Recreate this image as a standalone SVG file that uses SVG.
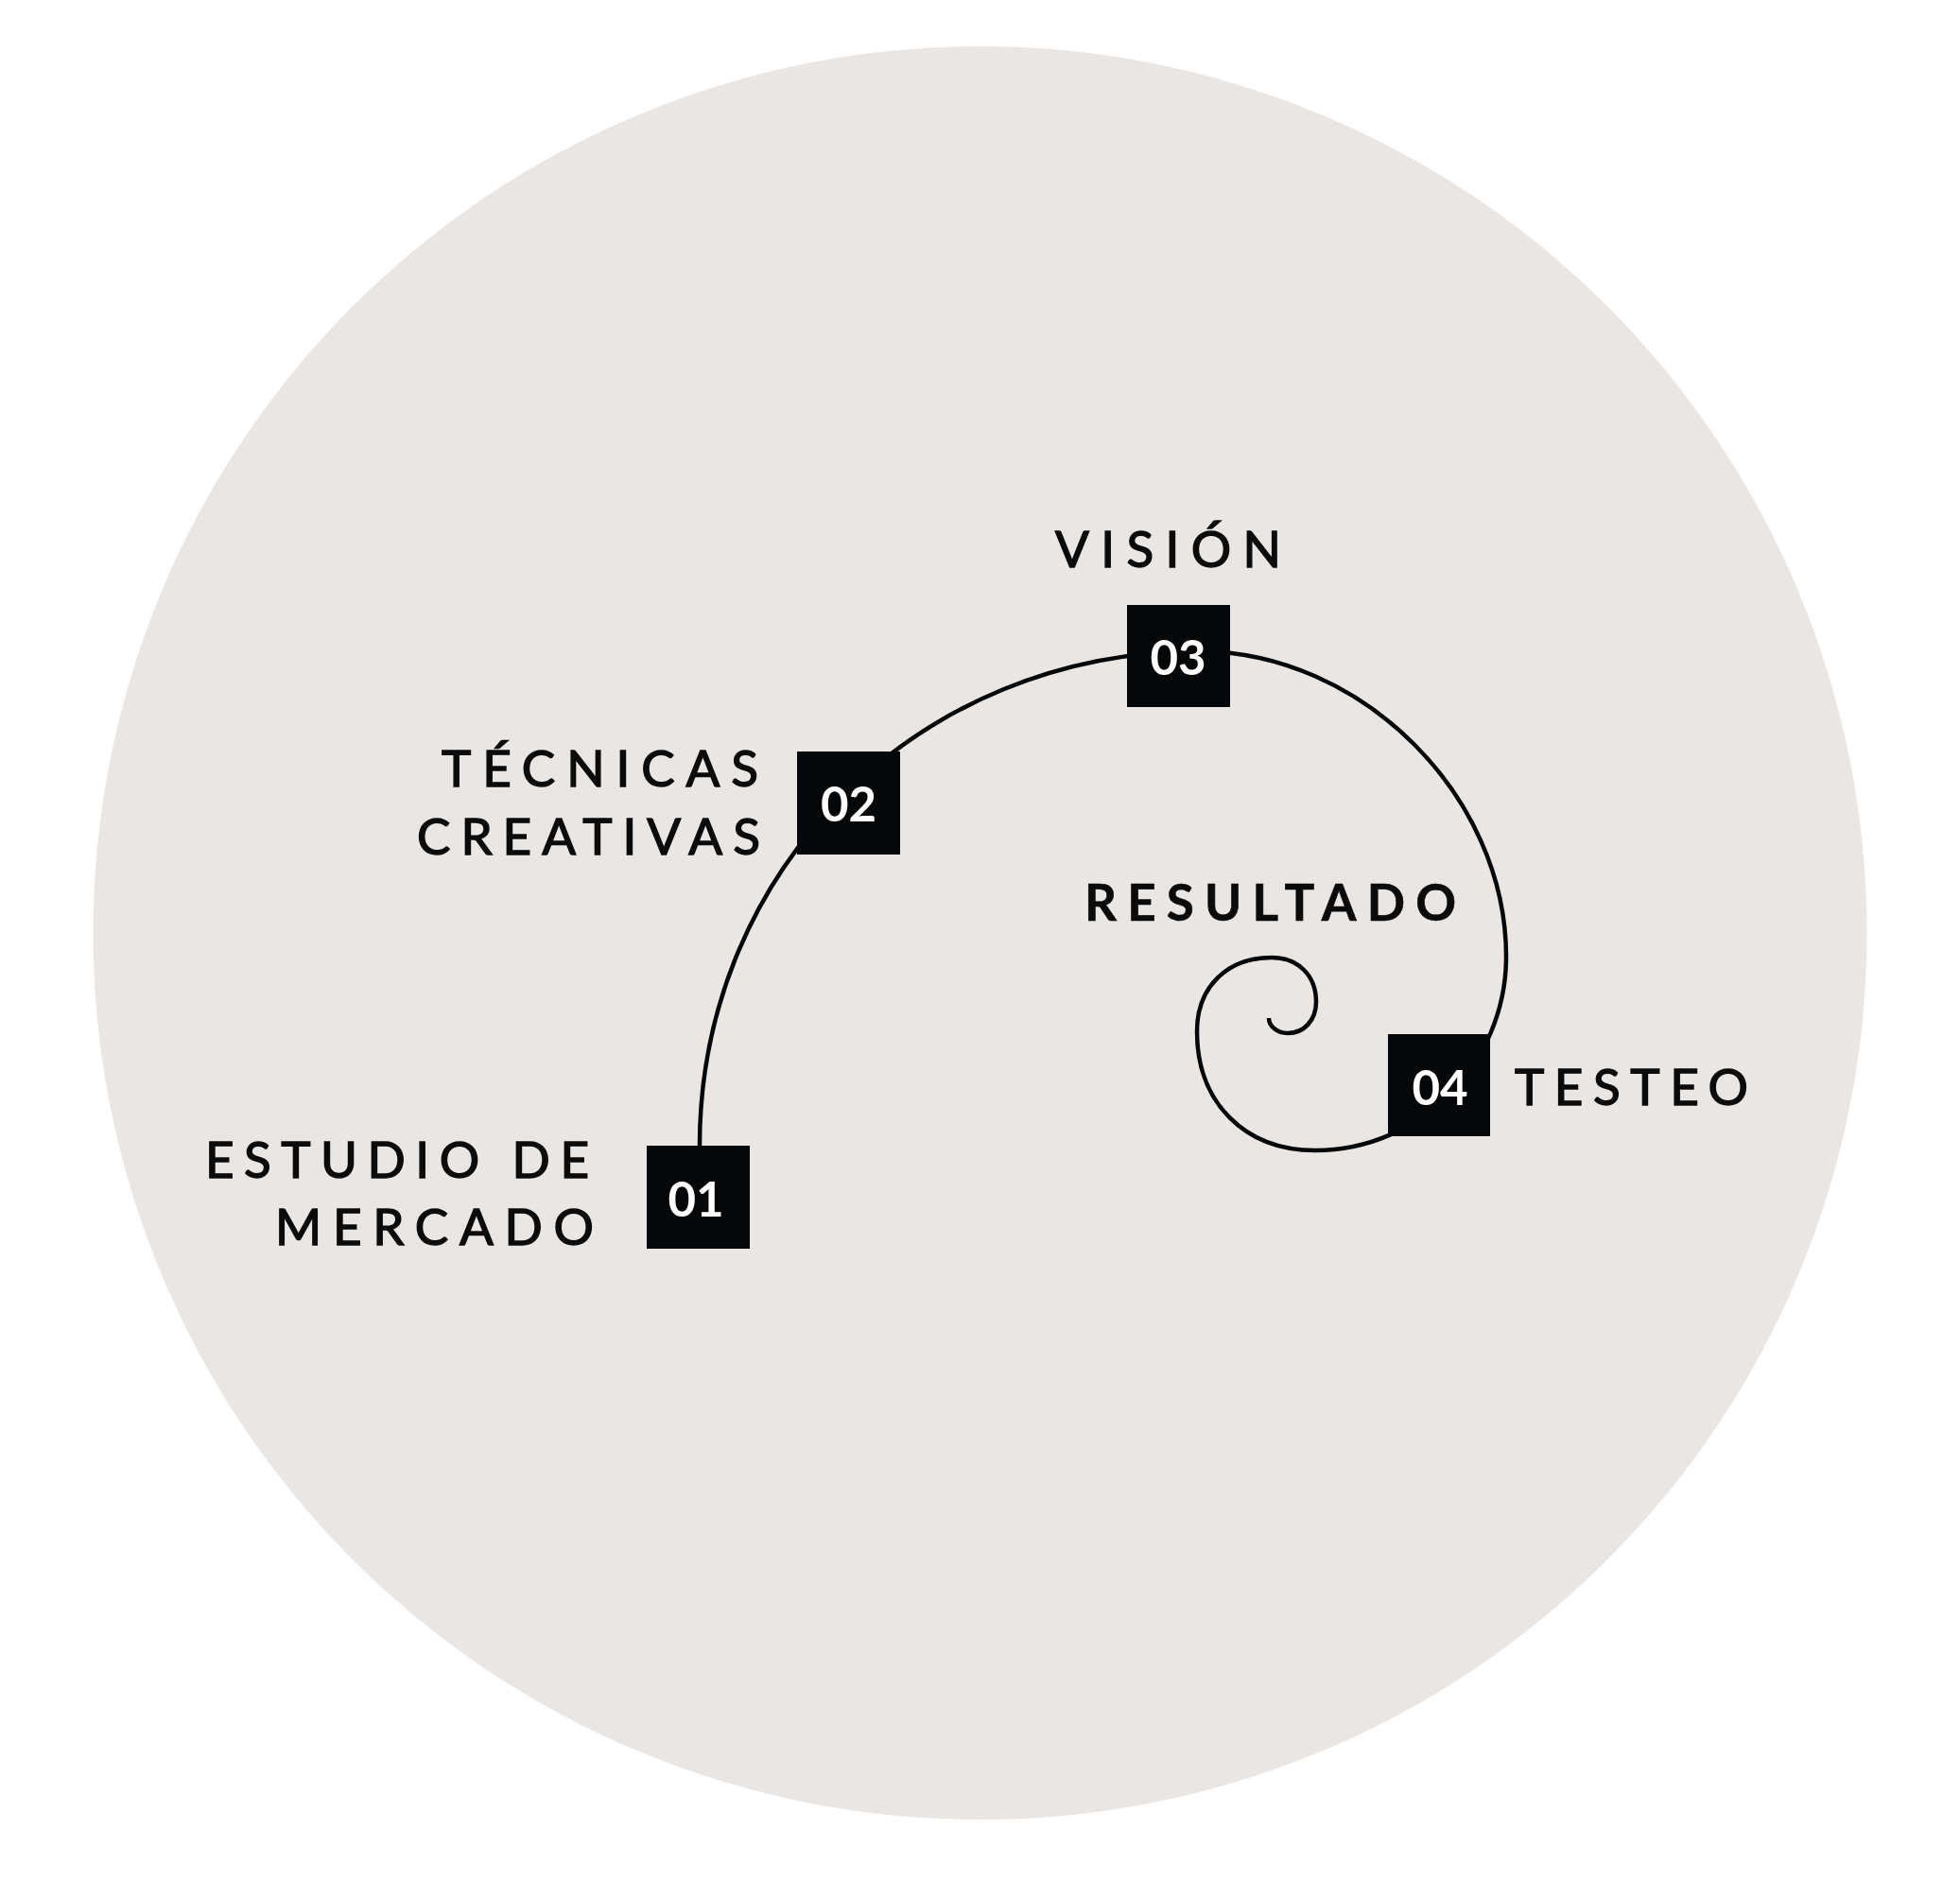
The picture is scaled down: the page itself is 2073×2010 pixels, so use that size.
<svg xmlns="http://www.w3.org/2000/svg" width="2073" height="2010" viewBox="0 0 2073 2010">
  <style>
    .lbl { font-family: Lato, "Liberation Sans", sans-serif; font-size: 53px; fill: #0b0b0b; font-weight: 400; stroke: #0b0b0b; stroke-width: 1.4px; }
    .bold { font-weight: 700; stroke-width: 0.6px; }
    .num { font-family: Lato, "Liberation Sans", sans-serif; font-size: 51px; fill: #ffffff; font-weight: 700; text-anchor: middle; }
    .box { fill: #060709; }
    .spiral { fill: none; stroke: #060709; stroke-width: 4.5; stroke-linecap: butt; }
  </style>
  <rect x="0" y="0" width="2073" height="2010" fill="#ffffff"/>
  <circle id="background" cx="1036.5" cy="987" r="938" fill="#eae6e3"/>

  <g id="connectors">
    <path class="spiral" d="M 740 1212 C 740 919 972 689 1268 689 C 1440 689 1593 842 1593 1012 C 1593 1124.75 1502 1217 1391 1217 C 1316 1217 1266 1166 1266 1091 C 1266 1044 1298 1013 1345 1013 C 1373 1013 1392 1032 1392 1060 C 1392 1079 1379.4 1093 1362 1093 C 1351 1093 1342 1085.8 1342 1077"/>
  </g>

  <g id="node-01">
    <rect class="box" x="684" y="1212" width="109" height="109"/>
    <text class="num" x="736" y="1287">01</text>
    <text class="lbl" x="217" y="1246" textLength="406" lengthAdjust="spacing">ESTUDIO DE</text>
    <text class="lbl" x="291" y="1317" textLength="337" lengthAdjust="spacing">MERCADO</text>
  </g>

  <g id="node-02">
    <rect class="box" x="843" y="795" width="109" height="109"/>
    <text class="num" x="897.5" y="869">02</text>
    <text class="lbl" x="467" y="832" textLength="335" lengthAdjust="spacing">TÉCNICAS</text>
    <text class="lbl" x="441" y="904" textLength="363" lengthAdjust="spacing">CREATIVAS</text>
  </g>

  <g id="node-03">
    <rect class="box" x="1192" y="640" width="109" height="108"/>
    <text class="num" x="1246" y="714">03</text>
    <text class="lbl" x="1116" y="600" textLength="239" lengthAdjust="spacing">VISIÓN</text>
  </g>

  <g id="node-04">
    <rect class="box" x="1468" y="1094" width="108" height="108"/>
    <text class="num" x="1523" y="1169">04</text>
    <text class="lbl" x="1602" y="1169" textLength="247" lengthAdjust="spacing">TESTEO</text>
  </g>

  <g id="node-resultado">
    <text class="lbl bold" x="1147" y="974" textLength="393" lengthAdjust="spacing">RESULTADO</text>
  </g>
</svg>
